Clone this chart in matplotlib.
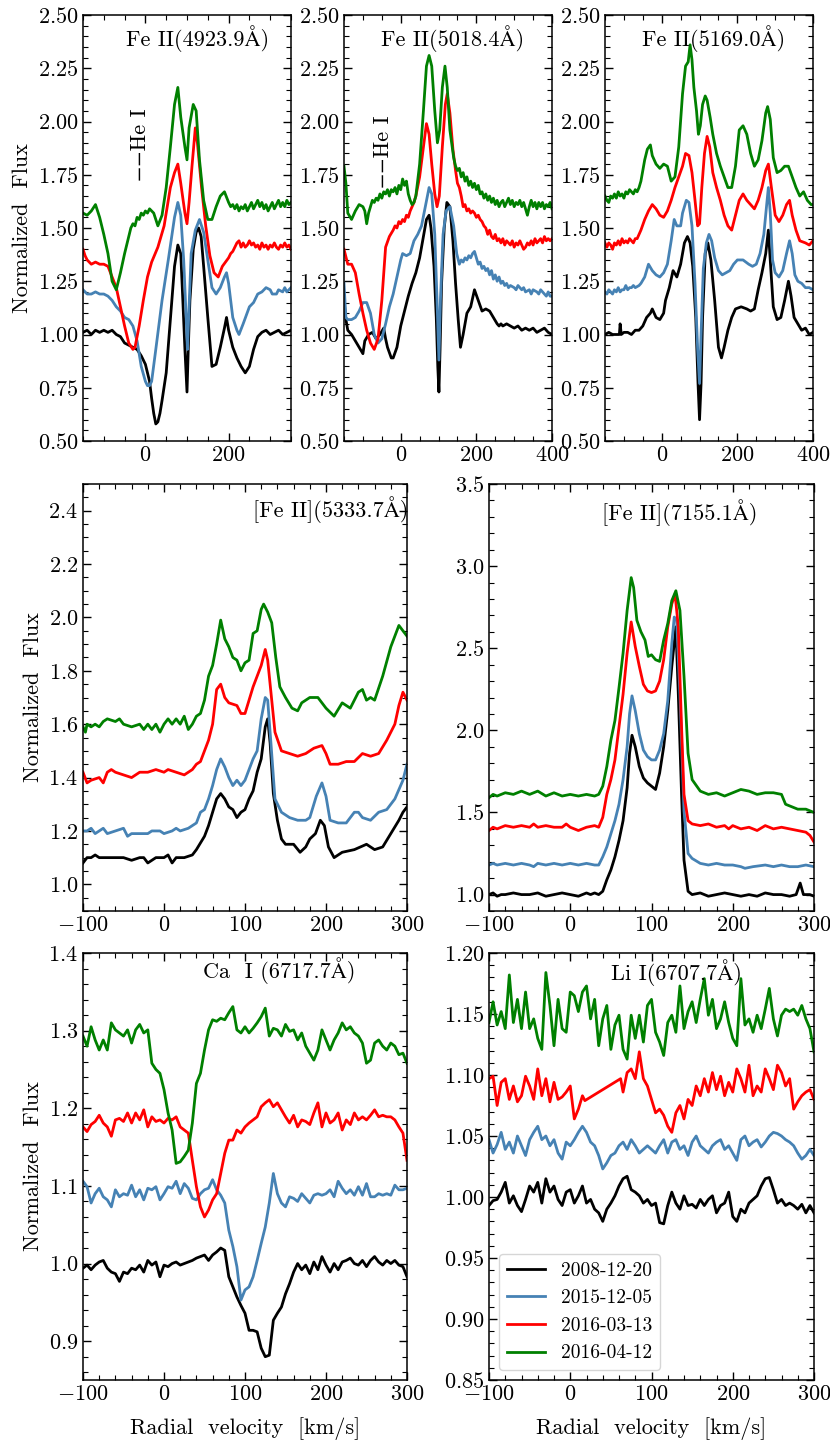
import numpy as np
import matplotlib
matplotlib.use('Agg')
import matplotlib.pyplot as plt
from matplotlib.ticker import MultipleLocator, AutoMinorLocator

plt.rcParams['font.family'] = ['cmr10', 'STIXGeneral', 'DejaVu Serif']
plt.rcParams['mathtext.fontset'] = 'cm'
plt.rcParams['axes.formatter.use_mathtext'] = True
plt.rcParams['font.size'] = 16

fechas = ['2008-12-20', '2015-12-05', '2016-03-13', '2016-04-12']
colores = ['black', 'steelblue', 'red', 'green']

# ---- Fe II 4923.9 (velocidad, flujo) ----
fe4923_negro = [(-150,1.01),(-140,1.02),(-130,1.00),(-120,1.02),(-110,1.01),(-100,1.02),(-90,1.01),(-80,1.02),(-70,1.00),(-60,0.99),(-50,0.96),(-40,0.95),(-30,0.94),(-20,0.93),(-10,0.90),(0,0.86),(10,0.78),(15,0.70),(20,0.63),(25,0.58),(30,0.59),(35,0.63),(40,0.69),(50,0.82),(60,1.07),(70,1.32),(78,1.42),(85,1.38),(90,1.16),(95,0.93),(100,0.73),(103,0.93),(107,1.16),(115,1.40),(122,1.48),(128,1.50),(134,1.46),(140,1.32),(150,1.08),(160,0.85),(170,0.86),(180,0.94),(190,1.03),(195,1.08),(200,1.02),(210,0.94),(220,0.89),(230,0.85),(240,0.82),(250,0.85),(260,0.93),(270,0.99),(280,1.01),(290,1.02),(300,1.00),(310,1.01),(320,1.02),(330,1.00),(340,1.01),(350,1.02)]
fe4923_azul = [(-150,1.21),(-140,1.19),(-130,1.19),(-120,1.20),(-110,1.19),(-100,1.19),(-90,1.18),(-80,1.16),(-70,1.13),(-60,1.11),(-50,1.08),(-40,1.07),(-30,1.04),(-20,0.97),(-10,0.85),(0,0.78),(5,0.76),(10,0.76),(15,0.78),(25,0.93),(40,1.16),(55,1.35),(70,1.55),(78,1.62),(85,1.56),(92,1.35),(98,1.08),(101,0.93),(104,1.08),(110,1.38),(120,1.49),(130,1.54),(140,1.48),(150,1.35),(160,1.22),(170,1.19),(180,1.22),(190,1.27),(195,1.29),(200,1.24),(210,1.08),(220,1.02),(225,1.00),(235,1.05),(250,1.13),(260,1.15),(270,1.19),(280,1.20),(290,1.22),(300,1.21),(305,1.19),(315,1.19),(320,1.21),(330,1.20),(335,1.22),(340,1.20),(350,1.22)]
fe4923_rojo = [(-150,1.40),(-145,1.37),(-140,1.35),(-130,1.33),(-120,1.34),(-110,1.33),(-100,1.33),(-90,1.32),(-80,1.27),(-70,1.22),(-60,1.13),(-50,1.04),(-40,0.96),(-30,0.93),(-25,0.94),(-15,1.04),(-5,1.16),(5,1.27),(15,1.34),(30,1.41),(45,1.51),(60,1.69),(70,1.76),(78,1.80),(85,1.71),(95,1.57),(100,1.52),(105,1.62),(112,1.79),(120,1.97),(125,1.90),(135,1.69),(145,1.51),(155,1.37),(165,1.29),(175,1.27),(185,1.32),(200,1.36),(205,1.38),(210,1.39),(215,1.41),(220,1.43),(225,1.44),(230,1.41),(235,1.43),(240,1.41),(245,1.42),(250,1.44),(255,1.42),(260,1.43),(265,1.41),(270,1.42),(275,1.40),(280,1.43),(285,1.41),(290,1.42),(295,1.40),(300,1.42),(305,1.41),(310,1.43),(315,1.41),(320,1.40),(325,1.42),(330,1.41),(335,1.43),(340,1.41),(345,1.42),(350,1.40)]
fe4923_verde = [(-150,1.57),(-140,1.56),(-130,1.58),(-120,1.61),(-110,1.55),(-100,1.47),(-90,1.38),(-80,1.25),(-70,1.21),(-60,1.29),(-50,1.38),(-40,1.46),(-35,1.50),(-30,1.52),(-25,1.51),(-20,1.55),(-15,1.54),(-10,1.57),(-5,1.56),(0,1.58),(5,1.57),(10,1.59),(15,1.58),(20,1.57),(30,1.51),(40,1.56),(50,1.69),(60,1.88),(70,2.08),(78,2.16),(85,2.02),(95,1.88),(100,1.82),(105,1.97),(115,2.08),(122,2.05),(130,1.82),(140,1.63),(150,1.54),(160,1.54),(170,1.60),(180,1.65),(190,1.67),(200,1.62),(205,1.60),(210,1.61),(215,1.59),(220,1.61),(225,1.58),(230,1.60),(235,1.59),(240,1.61),(245,1.58),(250,1.60),(255,1.62),(260,1.59),(265,1.61),(270,1.63),(275,1.60),(280,1.62),(285,1.59),(290,1.61),(295,1.58),(300,1.60),(305,1.62),(310,1.59),(315,1.61),(320,1.63),(325,1.60),(330,1.62),(335,1.60),(340,1.63),(345,1.61),(350,1.62)]

# ---- Fe II 5018.4 ----
fe5018_negro = [(-150,1.16),(-145,1.07),(-140,1.02),(-130,1.00),(-120,0.97),(-110,0.94),(-100,0.91),(-95,0.97),(-85,1.00),(-75,1.01),(-65,0.98),(-55,1.00),(-45,1.03),(-40,0.98),(-35,0.94),(-25,0.89),(-20,0.89),(-10,0.94),(0,1.04),(10,1.11),(20,1.18),(30,1.24),(40,1.29),(50,1.36),(60,1.46),(68,1.54),(75,1.56),(80,1.50),(88,1.32),(94,1.08),(98,0.85),(101,0.73),(104,0.93),(108,1.24),(115,1.50),(122,1.62),(130,1.60),(138,1.44),(145,1.24),(152,1.07),(158,0.94),(165,1.00),(175,1.10),(185,1.13),(195,1.21),(205,1.16),(215,1.11),(225,1.12),(235,1.11),(245,1.08),(255,1.05),(260,1.04),(265,1.05),(270,1.04),(280,1.05),(290,1.04),(300,1.03),(310,1.04),(320,1.02),(330,1.03),(340,1.02),(350,1.03),(360,1.01),(370,1.02),(380,1.03),(390,1.01),(400,1.00)]
fe5018_azul = [(-150,1.24),(-145,1.08),(-140,1.07),(-130,1.07),(-120,1.08),(-110,1.11),(-100,1.15),(-90,1.15),(-80,1.10),(-70,1.00),(-60,0.96),(-50,0.98),(-40,1.05),(-30,1.13),(-20,1.19),(-10,1.27),(0,1.35),(5,1.38),(15,1.37),(25,1.38),(35,1.44),(45,1.47),(55,1.51),(65,1.60),(75,1.69),(82,1.66),(90,1.47),(96,1.16),(101,0.88),(105,1.16),(112,1.47),(120,1.58),(130,1.60),(140,1.51),(148,1.38),(155,1.33),(160,1.35),(165,1.34),(170,1.36),(175,1.35),(180,1.37),(185,1.36),(190,1.38),(195,1.39),(200,1.36),(205,1.33),(210,1.34),(215,1.31),(220,1.32),(225,1.30),(230,1.31),(235,1.28),(240,1.30),(245,1.26),(250,1.28),(255,1.25),(260,1.27),(265,1.24),(270,1.25),(275,1.23),(280,1.24),(285,1.22),(290,1.23),(300,1.22),(305,1.21),(310,1.23),(320,1.21),(325,1.22),(330,1.20),(340,1.21),(345,1.19),(350,1.21),(360,1.20),(365,1.19),(370,1.21),(380,1.19),(385,1.18),(390,1.20),(395,1.18),(400,1.18)]
fe5018_rojo = [(-150,1.40),(-140,1.33),(-130,1.33),(-120,1.29),(-110,1.19),(-100,1.10),(-90,1.02),(-80,0.96),(-70,0.93),(-60,0.98),(-50,1.16),(-40,1.41),(-30,1.46),(-20,1.49),(-15,1.51),(-10,1.50),(-5,1.53),(0,1.52),(5,1.54),(10,1.53),(15,1.56),(20,1.55),(25,1.58),(30,1.60),(35,1.62),(40,1.65),(50,1.74),(60,1.88),(68,1.99),(75,1.94),(82,1.80),(90,1.66),(96,1.60),(102,1.65),(110,1.88),(118,2.08),(123,2.13),(130,2.04),(138,1.87),(145,1.77),(150,1.71),(155,1.69),(160,1.65),(165,1.60),(170,1.61),(175,1.58),(180,1.59),(185,1.57),(190,1.58),(195,1.57),(200,1.55),(205,1.56),(210,1.54),(215,1.53),(220,1.51),(225,1.50),(230,1.47),(235,1.49),(240,1.46),(245,1.45),(250,1.47),(255,1.44),(260,1.45),(265,1.43),(270,1.45),(275,1.42),(280,1.44),(285,1.43),(290,1.42),(295,1.44),(300,1.41),(305,1.43),(310,1.42),(315,1.44),(320,1.42),(325,1.40),(330,1.41),(335,1.43),(340,1.42),(345,1.44),(350,1.42),(355,1.45),(360,1.43),(365,1.44),(370,1.45),(375,1.43),(380,1.46),(385,1.44),(390,1.45),(395,1.44),(400,1.45)]
fe5018_verde = [(-150,1.79),(-145,1.71),(-140,1.57),(-130,1.54),(-120,1.58),(-110,1.61),(-100,1.60),(-95,1.58),(-90,1.52),(-85,1.57),(-80,1.60),(-75,1.63),(-70,1.62),(-65,1.64),(-60,1.63),(-55,1.66),(-50,1.64),(-45,1.67),(-40,1.66),(-35,1.68),(-30,1.65),(-25,1.68),(-20,1.67),(-15,1.69),(-10,1.66),(-5,1.70),(0,1.68),(5,1.73),(10,1.70),(15,1.72),(20,1.66),(25,1.63),(30,1.61),(35,1.62),(40,1.65),(50,1.80),(60,2.05),(68,2.26),(75,2.31),(82,2.26),(90,2.05),(97,1.90),(103,1.96),(110,2.16),(117,2.26),(123,2.16),(130,1.96),(140,1.83),(145,1.79),(150,1.77),(155,1.78),(160,1.74),(165,1.76),(170,1.72),(175,1.74),(180,1.70),(185,1.72),(190,1.69),(195,1.71),(200,1.68),(205,1.70),(210,1.66),(215,1.67),(220,1.64),(225,1.66),(230,1.63),(235,1.65),(240,1.62),(245,1.64),(250,1.61),(255,1.63),(260,1.60),(265,1.62),(270,1.63),(275,1.60),(280,1.62),(285,1.64),(290,1.61),(295,1.63),(300,1.60),(305,1.62),(310,1.61),(315,1.63),(320,1.60),(325,1.62),(330,1.59),(335,1.56),(340,1.60),(345,1.63),(350,1.60),(355,1.62),(360,1.59),(365,1.62),(370,1.60),(375,1.62),(380,1.59),(385,1.61),(390,1.60),(395,1.62),(400,1.59)]

# ---- Fe II 5169.0 ----
fe5169_negro = [(-150,1.00),(-140,1.01),(-130,1.00),(-120,1.00),(-112,1.00),(-110,1.05),(-107,1.00),(-100,1.01),(-90,1.01),(-80,1.00),(-70,1.02),(-60,1.02),(-50,1.04),(-40,1.08),(-30,1.10),(-25,1.12),(-15,1.08),(-5,1.07),(5,1.10),(10,1.16),(20,1.22),(30,1.30),(40,1.27),(50,1.33),(60,1.43),(68,1.46),(75,1.43),(82,1.32),(90,1.08),(96,0.77),(100,0.60),(104,0.77),(108,1.08),(115,1.38),(122,1.43),(130,1.35),(140,1.16),(150,0.94),(158,0.89),(165,0.94),(175,1.02),(185,1.08),(195,1.12),(210,1.13),(225,1.12),(235,1.11),(245,1.12),(255,1.21),(265,1.29),(275,1.38),(282,1.49),(288,1.32),(295,1.13),(305,1.07),(315,1.08),(325,1.16),(335,1.25),(342,1.18),(350,1.08),(360,1.05),(370,1.02),(380,1.03),(390,1.00),(400,1.01)]
fe5169_azul = [(-150,1.20),(-145,1.19),(-140,1.21),(-135,1.20),(-130,1.19),(-125,1.21),(-120,1.20),(-115,1.22),(-110,1.20),(-105,1.21),(-100,1.21),(-95,1.23),(-90,1.21),(-85,1.22),(-80,1.22),(-75,1.23),(-70,1.22),(-60,1.23),(-55,1.24),(-45,1.27),(-35,1.33),(-25,1.30),(-15,1.28),(-5,1.27),(5,1.29),(15,1.33),(25,1.44),(33,1.54),(40,1.51),(50,1.51),(55,1.57),(65,1.63),(72,1.62),(80,1.51),(88,1.24),(95,0.93),(100,0.77),(104,1.00),(110,1.31),(118,1.43),(125,1.47),(132,1.44),(140,1.36),(150,1.30),(160,1.28),(170,1.29),(180,1.30),(190,1.33),(200,1.35),(215,1.35),(230,1.33),(240,1.32),(250,1.33),(260,1.38),(270,1.47),(277,1.60),(282,1.69),(287,1.57),(293,1.35),(300,1.29),(310,1.27),(320,1.30),(330,1.38),(338,1.44),(345,1.38),(352,1.28),(360,1.25),(370,1.24),(380,1.22),(390,1.22),(400,1.21)]
fe5169_rojo = [(-150,1.43),(-145,1.41),(-140,1.43),(-135,1.42),(-130,1.40),(-125,1.43),(-120,1.42),(-115,1.44),(-110,1.42),(-105,1.45),(-100,1.43),(-95,1.44),(-90,1.43),(-85,1.45),(-80,1.44),(-75,1.43),(-70,1.45),(-65,1.45),(-55,1.49),(-45,1.54),(-35,1.58),(-25,1.61),(-15,1.59),(-5,1.56),(5,1.55),(15,1.58),(25,1.63),(35,1.69),(45,1.74),(55,1.79),(63,1.85),(72,1.84),(80,1.76),(88,1.63),(95,1.51),(100,1.52),(106,1.69),(113,1.85),(120,1.93),(127,1.88),(135,1.76),(145,1.69),(155,1.63),(165,1.56),(175,1.51),(185,1.49),(195,1.56),(205,1.63),(215,1.66),(225,1.63),(235,1.61),(245,1.59),(255,1.63),(265,1.69),(275,1.77),(282,1.80),(290,1.69),(300,1.56),(310,1.53),(320,1.56),(330,1.61),(338,1.63),(345,1.56),(355,1.49),(365,1.44),(380,1.43),(390,1.42),(400,1.44)]
fe5169_verde = [(-150,1.65),(-145,1.63),(-140,1.62),(-135,1.65),(-130,1.64),(-125,1.66),(-120,1.64),(-115,1.67),(-110,1.65),(-105,1.66),(-100,1.64),(-95,1.67),(-90,1.66),(-85,1.68),(-80,1.67),(-75,1.66),(-70,1.68),(-65,1.67),(-60,1.69),(-55,1.72),(-45,1.82),(-38,1.87),(-30,1.89),(-25,1.84),(-15,1.80),(-5,1.78),(5,1.80),(15,1.79),(25,1.72),(35,1.74),(45,1.88),(55,2.13),(63,2.26),(70,2.28),(75,2.36),(80,2.29),(85,2.16),(92,2.05),(97,1.94),(102,1.98),(108,2.08),(115,2.12),(120,2.10),(128,2.02),(135,1.94),(145,1.85),(155,1.79),(165,1.74),(175,1.69),(185,1.69),(195,1.79),(205,1.96),(215,1.98),(225,1.94),(235,1.85),(245,1.79),(255,1.82),(265,1.91),(275,2.04),(280,2.07),(287,2.01),(295,1.83),(305,1.76),(315,1.77),(325,1.79),(335,1.79),(345,1.74),(355,1.69),(365,1.65),(375,1.67),(385,1.63),(395,1.61),(400,1.61)]

# ---- [Fe II] 5333.7 ----
fe5333_negro = [(-100,1.08),(-95,1.10),(-90,1.10),(-85,1.11),(-80,1.10),(-70,1.10),(-60,1.10),(-50,1.10),(-40,1.09),(-30,1.10),(-25,1.10),(-20,1.08),(-10,1.10),(0,1.10),(5,1.11),(10,1.08),(15,1.10),(25,1.10),(35,1.11),(40,1.13),(50,1.18),(55,1.22),(60,1.27),(65,1.32),(70,1.34),(75,1.32),(80,1.29),(85,1.28),(90,1.25),(95,1.27),(100,1.28),(105,1.32),(110,1.35),(115,1.42),(120,1.47),(125,1.59),(128,1.62),(131,1.53),(135,1.34),(140,1.24),(145,1.17),(150,1.15),(160,1.15),(168,1.12),(175,1.14),(180,1.17),(187,1.19),(193,1.24),(198,1.22),(203,1.14),(210,1.10),(220,1.12),(235,1.13),(250,1.15),(260,1.13),(270,1.14),(280,1.19),(290,1.24),(295,1.27),(300,1.29)]
fe5333_azul = [(-100,1.20),(-95,1.20),(-90,1.21),(-85,1.19),(-80,1.20),(-75,1.21),(-70,1.19),(-60,1.20),(-50,1.21),(-45,1.18),(-40,1.19),(-30,1.19),(-20,1.19),(-15,1.20),(-5,1.20),(0,1.19),(10,1.20),(15,1.21),(20,1.20),(30,1.21),(40,1.23),(45,1.27),(50,1.28),(55,1.32),(60,1.37),(65,1.43),(70,1.47),(75,1.44),(80,1.40),(85,1.37),(90,1.39),(95,1.37),(100,1.39),(105,1.43),(110,1.47),(115,1.50),(120,1.62),(125,1.70),(128,1.69),(132,1.53),(137,1.32),(145,1.27),(155,1.25),(165,1.24),(175,1.24),(180,1.25),(188,1.33),(195,1.38),(200,1.33),(205,1.24),(215,1.23),(225,1.23),(235,1.27),(240,1.27),(245,1.25),(255,1.24),(265,1.27),(275,1.28),(285,1.32),(295,1.39),(300,1.45)]
fe5333_rojo = [(-100,1.42),(-95,1.38),(-90,1.39),(-80,1.40),(-75,1.38),(-70,1.42),(-65,1.43),(-60,1.42),(-50,1.41),(-40,1.40),(-30,1.42),(-20,1.42),(-10,1.43),(0,1.42),(5,1.43),(15,1.42),(25,1.41),(30,1.42),(35,1.43),(40,1.45),(45,1.46),(50,1.50),(55,1.54),(60,1.60),(65,1.73),(70,1.75),(75,1.70),(80,1.68),(90,1.67),(95,1.64),(100,1.64),(105,1.69),(110,1.74),(115,1.78),(120,1.82),(125,1.88),(128,1.84),(132,1.72),(137,1.57),(145,1.50),(155,1.49),(165,1.48),(175,1.49),(185,1.51),(195,1.52),(200,1.49),(205,1.45),(215,1.45),(225,1.46),(235,1.46),(245,1.49),(255,1.48),(265,1.49),(275,1.54),(285,1.60),(290,1.67),(295,1.72),(300,1.69)]
fe5333_verde = [(-100,1.59),(-97,1.57),(-95,1.60),(-90,1.59),(-85,1.60),(-80,1.59),(-75,1.61),(-70,1.62),(-60,1.61),(-55,1.62),(-50,1.60),(-40,1.59),(-30,1.60),(-25,1.58),(-20,1.60),(-15,1.58),(-10,1.60),(-5,1.57),(0,1.60),(5,1.62),(10,1.60),(15,1.62),(20,1.60),(25,1.63),(30,1.58),(35,1.60),(40,1.63),(45,1.64),(50,1.69),(55,1.78),(60,1.82),(65,1.90),(70,1.99),(75,1.92),(80,1.89),(85,1.85),(90,1.84),(95,1.80),(100,1.83),(105,1.84),(110,1.94),(115,1.95),(120,2.03),(123,2.05),(128,2.02),(133,1.98),(138,1.85),(143,1.74),(150,1.70),(158,1.66),(165,1.65),(170,1.68),(180,1.70),(190,1.70),(200,1.66),(210,1.63),(220,1.68),(230,1.66),(240,1.72),(245,1.73),(250,1.69),(255,1.70),(260,1.69),(270,1.78),(280,1.89),(290,1.97),(300,1.93)]

# ---- [Fe II] 7155.1 ----
fe7155_negro = [(-100,1.00),(-95,1.01),(-90,0.99),(-85,1.00),(-80,1.00),(-70,1.01),(-60,1.00),(-50,1.00),(-40,1.01),(-30,0.99),(-20,1.00),(-10,1.01),(0,1.00),(10,0.99),(20,1.01),(25,1.00),(30,1.01),(35,1.00),(40,1.02),(45,1.09),(50,1.15),(55,1.23),(60,1.33),(65,1.45),(70,1.65),(73,1.86),(76,1.97),(80,1.90),(85,1.78),(90,1.71),(95,1.68),(100,1.66),(105,1.64),(110,1.74),(115,1.90),(120,2.12),(125,2.39),(130,2.63),(133,2.22),(137,1.61),(140,1.21),(145,1.02),(150,1.00),(160,1.01),(170,0.99),(180,1.00),(190,1.01),(200,1.00),(210,0.99),(220,1.00),(230,0.99),(240,1.01),(250,1.00),(260,1.00),(270,0.99),(278,1.00),(283,1.07),(287,1.00),(295,1.00),(300,0.99)]
fe7155_azul = [(-100,1.18),(-95,1.19),(-90,1.18),(-80,1.19),(-70,1.18),(-60,1.19),(-50,1.18),(-45,1.17),(-40,1.19),(-30,1.18),(-20,1.19),(-10,1.18),(0,1.19),(10,1.18),(20,1.19),(30,1.18),(35,1.18),(40,1.23),(45,1.29),(50,1.37),(55,1.45),(60,1.55),(65,1.70),(70,1.90),(73,2.10),(76,2.21),(80,2.12),(85,1.98),(90,1.88),(95,1.84),(100,1.82),(105,1.82),(110,1.88),(115,1.98),(120,2.18),(125,2.53),(128,2.69),(131,2.67),(135,2.22),(140,1.51),(145,1.25),(150,1.22),(160,1.19),(170,1.18),(180,1.19),(190,1.18),(200,1.18),(210,1.17),(215,1.16),(225,1.17),(240,1.18),(250,1.17),(260,1.18),(270,1.17),(280,1.17),(290,1.18),(300,1.17)]
fe7155_rojo = [(-100,1.39),(-95,1.41),(-90,1.40),(-80,1.42),(-70,1.41),(-60,1.42),(-50,1.41),(-45,1.43),(-40,1.41),(-30,1.42),(-20,1.41),(-10,1.41),(-5,1.43),(0,1.41),(10,1.39),(20,1.41),(30,1.42),(35,1.41),(40,1.47),(45,1.61),(50,1.70),(55,1.82),(60,2.02),(65,2.22),(70,2.47),(75,2.66),(80,2.51),(85,2.39),(90,2.28),(95,2.24),(100,2.23),(105,2.24),(110,2.30),(115,2.43),(120,2.63),(125,2.77),(129,2.83),(133,2.63),(137,2.02),(140,1.61),(145,1.45),(150,1.43),(160,1.42),(170,1.43),(180,1.41),(190,1.42),(195,1.40),(200,1.42),(210,1.40),(220,1.41),(230,1.39),(240,1.42),(250,1.40),(260,1.41),(270,1.40),(280,1.39),(290,1.38),(295,1.36),(300,1.32)]
fe7155_verde = [(-100,1.59),(-95,1.61),(-90,1.60),(-80,1.62),(-70,1.61),(-60,1.63),(-50,1.61),(-40,1.63),(-30,1.60),(-20,1.62),(-10,1.60),(0,1.61),(10,1.60),(20,1.61),(30,1.60),(35,1.61),(40,1.66),(45,1.78),(50,1.94),(55,2.06),(60,2.26),(65,2.47),(70,2.73),(75,2.93),(78,2.87),(82,2.67),(87,2.60),(92,2.55),(96,2.45),(100,2.46),(105,2.43),(110,2.42),(115,2.55),(120,2.65),(125,2.79),(130,2.85),(135,2.73),(140,2.33),(145,1.86),(150,1.70),(160,1.63),(170,1.61),(180,1.62),(190,1.60),(200,1.62),(210,1.64),(220,1.63),(230,1.61),(240,1.62),(250,1.62),(260,1.61),(265,1.55),(270,1.54),(280,1.52),(290,1.52),(300,1.50)]

# ---- Ca I 6717.7 y Li I 6707.7: malla de 5 km/s de -100 a 300 ----
vel5 = np.arange(-100, 301, 5)
ca_negro = [0.994, 0.998, 0.992, 0.998, 1.002, 1.004, 0.994, 0.989, 0.987, 0.977,
            0.989, 0.987, 0.994, 0.992, 0.998, 0.989, 1.004, 0.998, 1.002, 0.983,
            0.998, 0.996, 1.000, 1.002, 0.998, 1.000, 1.002, 1.004, 1.007, 1.009,
            1.011, 1.004, 1.011, 1.015, 1.020, 1.017, 0.983, 0.970, 0.957, 0.946,
            0.936, 0.914, 0.914, 0.912, 0.891, 0.880, 0.882, 0.927, 0.936, 0.944,
            0.961, 0.974, 0.989, 1.000, 0.992, 0.998, 0.987, 1.002, 0.992, 1.009,
            0.998, 0.989, 1.000, 0.992, 1.002, 1.004, 1.007, 1.000, 0.998, 1.004,
            0.996, 1.004, 1.009, 1.002, 0.998, 1.004, 1.000, 1.004, 0.998, 0.996,
            0.983]
ca_azul = [1.106, 1.099, 1.078, 1.090, 1.097, 1.086, 1.082, 1.073, 1.095, 1.086,
           1.090, 1.088, 1.101, 1.086, 1.095, 1.082, 1.097, 1.095, 1.099, 1.082,
           1.090, 1.099, 1.097, 1.106, 1.090, 1.103, 1.097, 1.084, 1.082, 1.090,
           1.095, 1.097, 1.108, 1.095, 1.088, 1.078, 1.043, 1.022, 0.996, 0.953,
           0.966, 0.970, 0.983, 1.004, 1.026, 1.047, 1.078, 1.116, 1.090, 1.078,
           1.073, 1.086, 1.084, 1.080, 1.090, 1.084, 1.078, 1.088, 1.090, 1.088,
           1.090, 1.095, 1.086, 1.106, 1.097, 1.090, 1.095, 1.088, 1.099, 1.088,
           1.103, 1.086, 1.086, 1.090, 1.088, 1.090, 1.088, 1.101, 1.095, 1.095,
           1.097]
ca_rojo = [1.176, 1.170, 1.179, 1.183, 1.191, 1.181, 1.176, 1.164, 1.185, 1.187,
           1.183, 1.194, 1.181, 1.194, 1.185, 1.198, 1.176, 1.189, 1.183, 1.185,
           1.181, 1.187, 1.185, 1.189, 1.176, 1.172, 1.168, 1.133, 1.099, 1.073,
           1.060, 1.069, 1.082, 1.090, 1.116, 1.142, 1.159, 1.159, 1.172, 1.168,
           1.176, 1.181, 1.185, 1.189, 1.202, 1.207, 1.211, 1.202, 1.207, 1.198,
           1.189, 1.181, 1.191, 1.176, 1.185, 1.183, 1.179, 1.194, 1.207, 1.176,
           1.194, 1.181, 1.185, 1.194, 1.172, 1.185, 1.179, 1.194, 1.185, 1.189,
           1.185, 1.191, 1.198, 1.189, 1.191, 1.189, 1.189, 1.185, 1.176, 1.168,
           1.133]
ca_verde = [1.293, 1.280, 1.305, 1.288, 1.275, 1.288, 1.275, 1.310, 1.301, 1.297,
            1.293, 1.301, 1.284, 1.301, 1.308, 1.297, 1.301, 1.258, 1.250, 1.245,
            1.224, 1.194, 1.172, 1.129, 1.131, 1.138, 1.146, 1.181, 1.232, 1.245,
            1.275, 1.301, 1.314, 1.312, 1.316, 1.314, 1.323, 1.331, 1.301, 1.297,
            1.305, 1.297, 1.303, 1.310, 1.318, 1.329, 1.293, 1.303, 1.301, 1.293,
            1.308, 1.299, 1.301, 1.288, 1.297, 1.280, 1.271, 1.262, 1.275, 1.301,
            1.288, 1.275, 1.288, 1.297, 1.310, 1.301, 1.305, 1.297, 1.293, 1.284,
            1.258, 1.262, 1.284, 1.288, 1.280, 1.275, 1.284, 1.280, 1.269, 1.271,
            1.258]

li_negro = [0.993, 0.997, 0.998, 1.004, 1.012, 0.995, 1.001, 0.993, 0.988, 0.998,
            1.009, 1.004, 1.012, 0.995, 1.015, 1.004, 1.009, 0.998, 0.993, 1.004,
            1.006, 0.995, 1.001, 1.009, 0.995, 0.998, 0.990, 0.987, 0.980, 0.990,
            0.995, 1.001, 1.009, 1.015, 1.017, 1.006, 1.004, 1.001, 0.995, 0.998,
            0.993, 0.995, 0.979, 0.978, 0.993, 1.004, 0.995, 0.990, 1.001, 0.993,
            0.994, 0.991, 0.998, 0.993, 0.998, 1.001, 0.987, 0.993, 0.995, 1.004,
            0.984, 0.980, 0.990, 0.987, 0.995, 0.998, 1.001, 1.009, 1.015, 1.016,
            1.006, 0.995, 0.998, 0.993, 0.995, 0.993, 0.990, 0.994, 0.987, 0.993,
            0.987]
li_azul = [1.047, 1.036, 1.043, 1.053, 1.039, 1.045, 1.036, 1.050, 1.042, 1.034,
           1.047, 1.053, 1.058, 1.047, 1.050, 1.042, 1.047, 1.036, 1.031, 1.045,
           1.042, 1.047, 1.053, 1.058, 1.053, 1.045, 1.042, 1.034, 1.023, 1.028,
           1.034, 1.036, 1.042, 1.045, 1.039, 1.047, 1.042, 1.036, 1.039, 1.042,
           1.039, 1.036, 1.042, 1.047, 1.036, 1.045, 1.047, 1.039, 1.042, 1.034,
           1.045, 1.050, 1.042, 1.039, 1.036, 1.042, 1.045, 1.047, 1.039, 1.042,
           1.036, 1.030, 1.047, 1.050, 1.042, 1.045, 1.047, 1.041, 1.045, 1.050,
           1.053, 1.052, 1.050, 1.047, 1.045, 1.042, 1.036, 1.031, 1.034, 1.039,
           1.034]
li_verde = [1.143, 1.160, 1.141, 1.152, 1.138, 1.182, 1.143, 1.162, 1.138, 1.168,
            1.138, 1.146, 1.130, 1.121, 1.184, 1.157, 1.124, 1.162, 1.138, 1.135,
            1.168, 1.165, 1.152, 1.168, 1.173, 1.146, 1.162, 1.124, 1.146, 1.157,
            1.121, 1.141, 1.149, 1.121, 1.113, 1.149, 1.130, 1.149, 1.127, 1.157,
            1.162, 1.135, 1.127, 1.116, 1.143, 1.149, 1.135, 1.173, 1.138, 1.152,
            1.160, 1.143, 1.162, 1.179, 1.149, 1.162, 1.138, 1.146, 1.160, 1.143,
            1.130, 1.124, 1.179, 1.141, 1.146, 1.135, 1.149, 1.138, 1.154, 1.171,
            1.146, 1.132, 1.149, 1.154, 1.152, 1.154, 1.149, 1.157, 1.146, 1.138,
            1.119]
# el espectro rojo tiene un hueco entre 18 y 62 km/s
li_rojo_v = list(range(-100, 16, 5)) + [18, 62] + list(range(65, 301, 5))
li_rojo = [1.097, 1.099, 1.075, 1.094, 1.097, 1.080, 1.091, 1.078, 1.083, 1.099,
           1.091, 1.080, 1.105, 1.083, 1.097, 1.078, 1.094, 1.080, 1.082, 1.086,
           1.091, 1.064, 1.072, 1.083,
           1.079, 1.097,
           1.086, 1.102, 1.105, 1.097, 1.119, 1.097, 1.091, 1.080, 1.069, 1.072,
           1.067, 1.058, 1.053, 1.069, 1.075, 1.064, 1.080, 1.075, 1.091, 1.083,
           1.097, 1.086, 1.102, 1.088, 1.099, 1.083, 1.094, 1.086, 1.105, 1.097,
           1.086, 1.108, 1.083, 1.091, 1.086, 1.105, 1.097, 1.088, 1.108, 1.102,
           1.091, 1.097, 1.072, 1.078, 1.083, 1.086, 1.088, 1.080]


def pares(lista):
    v, f = zip(*lista)
    return list(v), list(f)


def estilo(ax, xlim, ylim, xmaj, ymaj):
    ax.set_xlim(*xlim)
    ax.set_ylim(*ylim)
    ax.xaxis.set_major_locator(MultipleLocator(xmaj))
    ax.yaxis.set_major_locator(MultipleLocator(ymaj))
    ax.xaxis.set_minor_locator(AutoMinorLocator())
    ax.yaxis.set_minor_locator(AutoMinorLocator())
    ax.tick_params(which='both', direction='in', top=True, right=True)
    ax.tick_params(which='major', length=6, width=1)
    ax.tick_params(which='minor', length=3.5, width=0.8)
    for s in ax.spines.values():
        s.set_linewidth(1.1)


fig = plt.figure(figsize=(8.3, 14.53), dpi=100)
W, H = 830.0, 1453.0


def caja(x0, x1, y0, y1):
    return [x0 / W, 1 - y1 / H, (x1 - x0) / W, (y1 - y0) / H]


# fila superior
paneles_sup = [
    ('Fe II(4923.9Å)', [fe4923_negro, fe4923_azul, fe4923_rojo, fe4923_verde], (83, 291), (-150, 350), 0.55, -12, 1.72),
    ('Fe II(5018.4Å)', [fe5018_negro, fe5018_azul, fe5018_rojo, fe5018_verde], (344, 552), (-150, 400), 0.52, -46, 1.69),
    ('Fe II(5169.0Å)', [fe5169_negro, fe5169_azul, fe5169_rojo, fe5169_verde], (605, 813), (-150, 400), 0.52, None, None),
]
for i, (titulo, series, (x0, x1), xlim, tx, hx, hy) in enumerate(paneles_sup):
    ax = fig.add_axes(caja(x0, x1, 15, 441))
    for s, c in zip(series, colores):
        v, f = pares(s)
        ax.plot(v, f, color=c, lw=2)
    estilo(ax, xlim, (0.5, 2.5), 200, 0.25)
    ax.text(tx, 0.944, titulo, transform=ax.transAxes, ha='center', va='center')
    if hx is not None:
        ax.text(hx, hy, '\u2212\u2212He I', rotation=90, ha='center', va='bottom', fontsize=16)
    if i == 0:
        ax.set_ylabel('Normalized  Flux')

# fila media
ax = fig.add_axes(caja(83, 407, 484, 911))
for s, c in zip([fe5333_negro, fe5333_azul, fe5333_rojo, fe5333_verde], colores):
    v, f = pares(s)
    ax.plot(v, f, color=c, lw=2)
estilo(ax, (-100, 300), (0.9, 2.5), 100, 0.2)
ax.text(0.765, 0.939, '[Fe II](5333.7Å)', transform=ax.transAxes, ha='center', va='center')
ax.set_ylabel('Normalized  Flux')

ax = fig.add_axes(caja(489, 814, 484, 911))
for s, c in zip([fe7155_negro, fe7155_azul, fe7155_rojo, fe7155_verde], colores):
    v, f = pares(s)
    ax.plot(v, f, color=c, lw=2)
estilo(ax, (-100, 300), (0.9, 3.5), 100, 0.5)
ax.text(0.588, 0.934, '[Fe II](7155.1Å)', transform=ax.transAxes, ha='center', va='center')

# fila inferior
ax = fig.add_axes(caja(83, 407, 953, 1380))
for f, c in zip([ca_negro, ca_azul, ca_rojo, ca_verde], colores):
    ax.plot(vel5, f, color=c, lw=2)
estilo(ax, (-100, 300), (0.85, 1.4), 100, 0.1)
ax.text(0.605, 0.96, 'Ca  I (6717.7Å)', transform=ax.transAxes, ha='center', va='center')
ax.set_ylabel('Normalized  Flux')
ax.set_xlabel('Radial  velocity  [km/s]', labelpad=9)

ax = fig.add_axes(caja(489, 814, 953, 1380))
ax.plot(vel5, li_negro, color='black', lw=2, label=fechas[0])
ax.plot(vel5, li_azul, color='steelblue', lw=2, label=fechas[1])
ax.plot(li_rojo_v, li_rojo, color='red', lw=2, label=fechas[2])
ax.plot(vel5, li_verde, color='green', lw=2, label=fechas[3])
estilo(ax, (-100, 300), (0.85, 1.2), 100, 0.05)
ax.text(0.578, 0.955, 'Li I(6707.7Å)', transform=ax.transAxes, ha='center', va='center')
ax.set_xlabel('Radial  velocity  [km/s]', labelpad=9)
ax.legend(loc='lower left', fontsize=14)

fig.savefig('out.png', dpi=100)
